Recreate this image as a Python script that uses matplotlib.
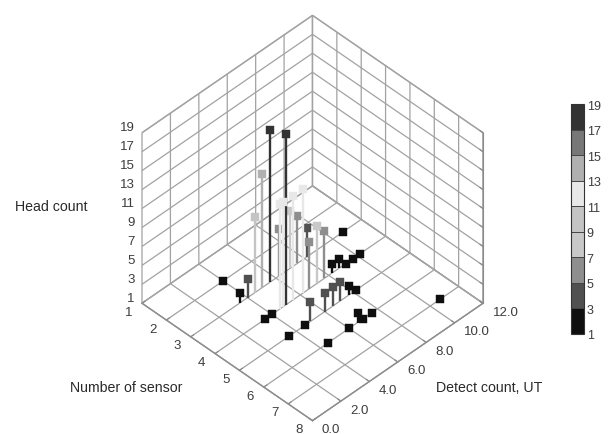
import matplotlib
matplotlib.use("Agg")
import matplotlib.pyplot as plt
from matplotlib.cm import ScalarMappable
from matplotlib.colors import BoundaryNorm, ListedColormap
from mpl_toolkits.mplot3d import proj3d

plt.rcParams['font.family'] = ['Liberation Sans', 'DejaVu Sans']

sensor = [2, 4, 4, 5, 5, 6, 6, 6, 6, 5, 4, 4, 4, 3, 7,
          3, 3, 5, 5, 5, 5, 5, 6, 4, 4,
          3, 4, 3, 3, 3, 4, 4, 4, 4, 3, 3, 3, 4, 4, 4]
detect = [4, 4, 3.5, 4.6, 3.5, 4.5, 6, 7, 7.6, 8.2, 9.2, 9.7, 10.2, 10.7, 10.7,
          3.5, 4, 5, 6, 6.6, 7.1, 7.7, 6.6, 8.2, 8.7,
          5.6, 5, 5, 4.5, 6.2, 4.6, 4.8, 5.5, 6.2, 7, 7.5, 8.2, 6.6, 7.2, 7.7]
heads = [1, 1, 1, 1, 1, 1, 1, 1, 1, 1, 1, 1, 1, 1, 1,
         2, 3, 3, 3, 3, 3, 2, 2, 2, 2,
         17, 19, 13, 9, 6, 12, 12, 12, 12, 7, 6, 4, 6, 7, 6]
sensor_ticks = [1, 2, 3, 4, 5, 6, 7, 8]
detect_ticks = [0, 2, 4, 6, 8, 10, 12]
detect_labels = ['0.0', '2.0', '4.0', '6.0', '8.0', '10.0', '12.0']
head_ticks = [1, 3, 5, 7, 9, 11, 13, 15, 17, 19]
band_colors = ['#0e0e0e', '#505050', '#8e8e8e', '#c8c8c8', '#c4c4c4',
               '#e8e8e8', '#b0b0b0', '#777777', '#333333']

W, H = 608, 435
fig = plt.figure(figsize=(W / 100, H / 100), dpi=100, facecolor='white')
size = 420
ax = fig.add_axes([(304 - size / 2) / W, (217 - size / 2) / H, size / W, size / H],
                  projection='3d', computed_zorder=False, proj_type='ortho')
ax.patch.set_alpha(0)
ax.view_init(elev=43.5, azim=-45)
ax.set_box_aspect((1, 1, 0.975))
ax.set_xlim(1, 8, view_margin=0)
ax.set_ylim(0, 12, view_margin=0)
ax.set_zlim(1, 19, view_margin=0)
ax.set_xticks(sensor_ticks)
ax.set_yticks(detect_ticks)
ax.set_zticks(head_ticks)
ax.set_xticklabels([])
ax.set_yticklabels([])
ax.set_zticklabels([])
ax.zaxis.set_ticks_position('upper')

for axis in (ax.xaxis, ax.yaxis, ax.zaxis):
    axis.set_pane_color((1, 1, 1, 1))
    axis.pane.set_edgecolor('#a8a8a8')
    axis.line.set_color('#8c8c8c')
    axis.line.set_linewidth(0.8)
    axis._axinfo['grid'].update(color='#a2a2a2', linewidth=0.9)
    axis._axinfo['tick'].update(inward_factor=0.0, outward_factor=0.22,
                                linewidth={True: 0.8, False: 0.8})
    axis.set_tick_params(color='#888888')

cmap = ListedColormap(band_colors)
norm = BoundaryNorm(head_ticks, cmap.N, clip=True)

order = sorted(range(len(heads)), key=lambda i: sensor[i] - detect[i] / 12 * 7)
for rank, i in enumerate(order):
    c = cmap(norm(heads[i]))
    if heads[i] > 1:
        ax.plot([sensor[i]] * 2, [detect[i]] * 2, [1, heads[i]], color=c, lw=1.7,
                zorder=10 + rank, solid_capstyle='butt')
    ax.plot([sensor[i]], [detect[i]], [heads[i]], ls='none', marker='s', ms=5.2,
            mfc=c, mec=c, mew=0.3, zorder=10 + rank)


def to_px(x, y, z):
    px, py, _ = proj3d.proj_transform(x, y, z, ax.get_proj())
    return ax.transData.transform((px, py))


# Fit the cube's projected corners to the reference frame.
for _ in range(3):
    fig.canvas.draw()
    left = to_px(1, 0, 1)
    right = to_px(8, 12, 1)
    top = to_px(1, 12, 19)
    bottom = to_px(8, 0, 1)
    scale = 341 / (right[0] - left[0])
    size *= scale
    cx_now = (left[0] + right[0]) / 2
    cy_now = (top[1] + bottom[1]) / 2
    pos = ax.get_position(original=True)
    new_cx = (pos.x0 + pos.width / 2) * W + (312.5 - cx_now)
    new_cy = (pos.y0 + pos.height / 2) * H + ((H - 219) - cy_now)
    ax.set_position([(new_cx - size / 2) / W, (new_cy - size / 2) / H, size / W, size / H])
fig.canvas.draw()

tick_style = dict(fontsize=9.5, color='#3c3c3c', va='center')
for s in sensor_ticks:
    px, py = to_px(s, 0, 1)
    fig.text((px - 13.5) / W, (py - 8.5) / H, str(s), ha='center', **tick_style)
for d, label in zip(detect_ticks, detect_labels):
    px, py = to_px(8, d, 1)
    fig.text((px + 9.5) / W, (py - 8.5) / H, label, ha='left', **tick_style)
for z in head_ticks:
    px, py = to_px(1, 0, z)
    fig.text((px - 7.5) / W, (py + 5.5) / H, str(z), ha='right', **tick_style)

cax = fig.add_axes([570.5 / W, (H - 335) / H, 13.5 / W, 230 / H])
cb = fig.colorbar(ScalarMappable(norm=norm, cmap=cmap), cax=cax, ticks=head_ticks,
                  spacing='uniform', drawedges=True)
cb.outline.set_edgecolor('#333333')
cb.outline.set_linewidth(0.8)
cb.dividers.set_color('#444444')
cb.dividers.set_linewidth(0.7)
cb.ax.tick_params(length=0, pad=2, labelsize=9, colors='#3c3c3c')

label_style = dict(fontsize=10.2, color='#2a2a2a', va='center', ha='left')
fig.text(15 / W, 1 - 207 / H, 'Head count', **label_style)
fig.text(70 / W, 1 - 388 / H, 'Number of sensor', **label_style)
fig.text(436 / W, 1 - 388 / H, 'Detect count, UT', **label_style)

fig.savefig('out.png', dpi=100, facecolor='white')
